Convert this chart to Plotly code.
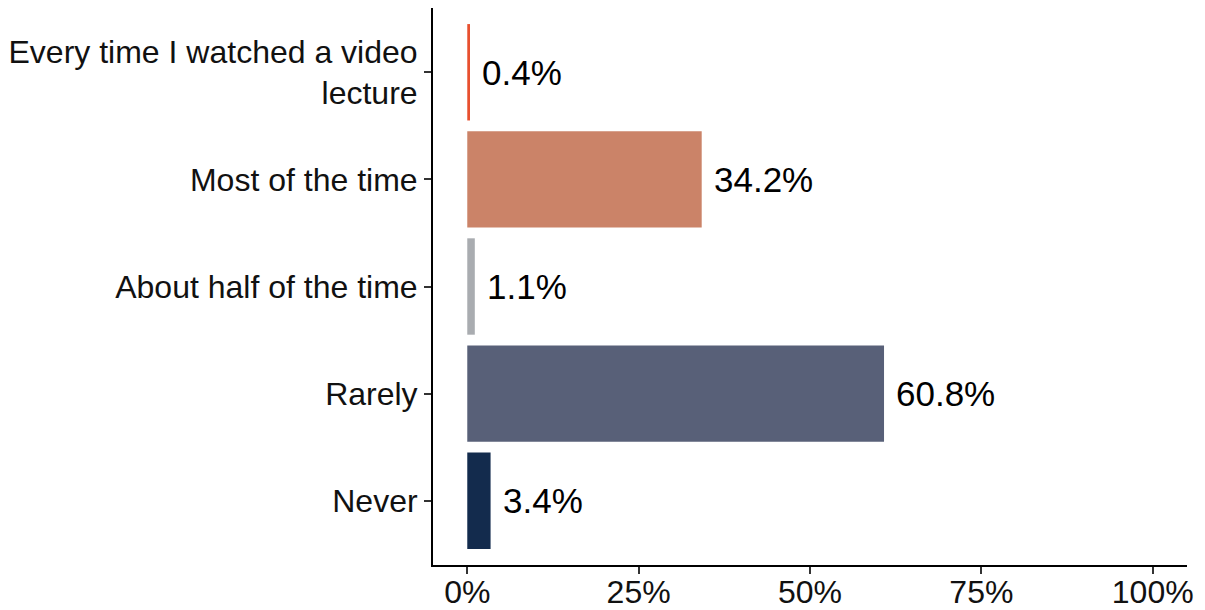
import plotly.graph_objects as go

categories = ["Every time I watched a video<br>lecture", "Most of the time",
              "About half of the time", "Rarely", "Never"]
values = [0.004, 0.342, 0.011, 0.608, 0.034]
labels = ["0.4%", "34.2%", "1.1%", "60.8%", "3.4%"]
colors = ["#E8502F", "#CB8368", "#A9ACB0", "#586078", "#132B4D"]
xticks = [0, 0.25, 0.5, 0.75, 1.0]
xticklabels = ["0%", "25%", "50%", "75%", "100%"]

FONT = "Liberation Sans, Arial, sans-serif"

fig = go.Figure()
fig.add_trace(go.Bar(
    x=values, y=categories, orientation="h",
    marker=dict(color=colors, line=dict(width=0)),
    hoverinfo="skip",
))

for v, c, t in zip(values, categories, labels):
    fig.add_annotation(x=v, y=c, text=t, showarrow=False,
                       xanchor="left", yanchor="middle", xshift=10,
                       font=dict(family=FONT, size=35, color="#000000"))

fig.update_layout(
    width=1205, height=610,
    margin=dict(l=433, r=18, t=8, b=45),
    paper_bgcolor="white", plot_bgcolor="white",
    bargap=0.1, showlegend=False,
    font=dict(family=FONT, size=32, color="#111111"),
)
fig.update_xaxes(
    range=[-0.05, 1.05], tickvals=xticks, ticktext=xticklabels,
    showgrid=False, zeroline=False, automargin=False,
    showline=True, linecolor="#000000", linewidth=2,
    ticks="outside", ticklen=7, tickwidth=2, tickcolor="#333333",
    ticklabelstandoff=-9,
    tickfont=dict(family=FONT, size=32, color="#111111"),
)
fig.update_yaxes(
    categoryorder="array", categoryarray=categories[::-1],
    range=[-0.6, 4.6],
    showgrid=False, zeroline=False, automargin=False,
    showline=True, linecolor="#000000", linewidth=2,
    ticks="outside", ticklen=7, tickwidth=2, tickcolor="#333333",
    tickfont=dict(family=FONT, size=32, color="#111111"),
)

fig.write_html(
    "out.html",
    config={"displayModeBar": False},
    post_script="document.body.style.margin='0';document.body.style.overflow='hidden';"
                "document.documentElement.style.overflow='hidden';",
)
